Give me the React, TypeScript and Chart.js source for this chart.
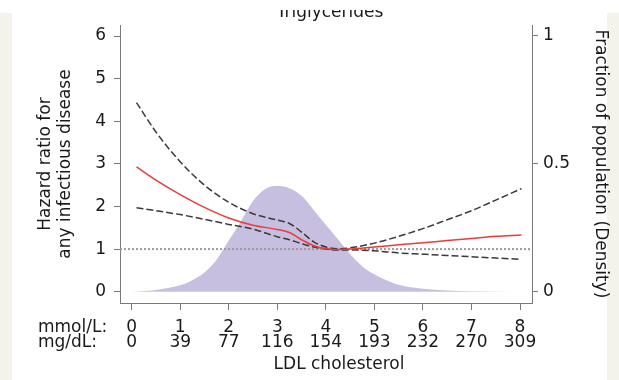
import React, { useEffect, useRef } from "react";
import { Chart, registerables } from "chart.js";

Chart.register(...registerables);

// ---- data ----
const mmolTicks = [0, 1, 2, 3, 4, 5, 6, 7, 8];
const mgdlTicks = ["0", "39", "77", "116", "154", "193", "232", "270", "309"];
const hrTicks = [0, 1, 2, 3, 4, 5, 6];
const densTicks = [0, 0.5, 1];

const ldlX = [0.1, 0.5, 1.0, 1.5, 2.0, 2.5, 3.0, 3.25, 3.5, 3.75, 4.0, 4.25, 4.5, 5.0, 5.5, 6.0, 6.5, 7.0, 7.5, 8.03];
const hrEstimate = [2.93, 2.62, 2.28, 1.98, 1.73, 1.56, 1.46, 1.39, 1.22, 1.08, 1.01, 0.99, 1.0, 1.05, 1.1, 1.15, 1.2, 1.25, 1.3, 1.33];
const hrUpper = [4.44, 3.75, 3.05, 2.5, 2.1, 1.83, 1.68, 1.6, 1.4, 1.17, 1.05, 1.01, 1.03, 1.14, 1.3, 1.48, 1.69, 1.9, 2.15, 2.42];
const hrLower = [1.97, 1.9, 1.81, 1.7, 1.58, 1.47, 1.29, 1.22, 1.13, 1.05, 1.0, 0.98, 0.98, 0.96, 0.91, 0.88, 0.85, 0.82, 0.79, 0.76];

const densX = [0, 0.5, 1.0, 1.25, 1.5, 1.75, 2.0, 2.25, 2.5, 2.75, 3.0, 3.25, 3.5, 3.75, 4.0, 4.25, 4.5, 4.75, 5.0, 5.25, 5.5, 6.0, 6.5, 7.0, 7.85];
const densY = [0, 0.007, 0.025, 0.045, 0.075, 0.125, 0.2, 0.275, 0.355, 0.402, 0.413, 0.405, 0.375, 0.32, 0.262, 0.205, 0.148, 0.1, 0.068, 0.045, 0.027, 0.012, 0.005, 0.002, 0];

const REF_HR = 1;

const X_MIN = -0.24;
const X_MAX = 8.247;
const Y_MIN = -0.265;
const Y_MAX = 6.26;
const Y2_MIN = -0.044;
const Y2_MAX = 1.043;

const FONT = '"DejaVu Sans", "Liberation Sans", Arial, sans-serif';
const TEXT = "#1a1a1a";
const AXIS = "#7a7a7a";

const pairs = (xs: number[], ys: number[]) => xs.map((x, i) => ({ x, y: ys[i] }));

const extraText = {
  id: "extraText",
  afterDraw(chart: any) {
    const ctx = chart.ctx;
    ctx.save();
    ctx.fillStyle = TEXT;
    ctx.font = `17px ${FONT}`;
    ctx.textAlign = "left";
    ctx.textBaseline = "middle";
    ctx.fillText("mmol/L:", 38, 327.5);
    ctx.fillText("mg/dL:", 38, 343);
    ctx.textAlign = "center";
    ctx.fillText("LDL cholesterol", 339, 365);
    ctx.beginPath();
    ctx.rect(0, 10, chart.width, chart.height);
    ctx.clip();
    ctx.textBaseline = "alphabetic";
    ctx.fillText("Triglycerides", 330, 17);
    ctx.restore();
  },
};

export default function App() {
  const ref = useRef<HTMLCanvasElement | null>(null);

  useEffect(() => {
    if (!ref.current) return;
    const chart = new Chart(ref.current, {
      type: "line",
      data: {
        datasets: [
          {
            label: "HR",
            data: pairs(ldlX, hrEstimate),
            borderColor: "#ee3a3a",
            borderWidth: 1.5,
            pointRadius: 0,
            cubicInterpolationMode: "monotone",
            yAxisID: "y",
          },
          {
            label: "Upper",
            data: pairs(ldlX, hrUpper),
            borderColor: "#3a3a3a",
            borderWidth: 1.5,
            borderDash: [7, 3],
            pointRadius: 0,
            cubicInterpolationMode: "monotone",
            yAxisID: "y",
          },
          {
            label: "Lower",
            data: pairs(ldlX, hrLower),
            borderColor: "#3a3a3a",
            borderWidth: 1.5,
            borderDash: [7, 3],
            pointRadius: 0,
            cubicInterpolationMode: "monotone",
            yAxisID: "y",
          },
          {
            label: "Ref",
            data: [
              { x: X_MIN, y: REF_HR },
              { x: X_MAX, y: REF_HR },
            ],
            borderColor: "#9a9a9a",
            borderWidth: 2,
            borderDash: [2, 2],
            pointRadius: 0,
            yAxisID: "y",
          },
          {
            label: "Density",
            data: pairs(densX, densY),
            borderWidth: 0,
            borderColor: "rgba(0,0,0,0)",
            backgroundColor: "#c7bfe0",
            fill: "origin",
            pointRadius: 0,
            cubicInterpolationMode: "monotone",
            yAxisID: "y1",
          },
        ],
      } as any,
      options: {
        animation: false,
        responsive: false,
        devicePixelRatio: 1,
        layout: { padding: { top: 25, left: 0, right: 0, bottom: 0 } },
        plugins: { legend: { display: false }, tooltip: { enabled: false } },
        scales: {
          x: {
            type: "linear",
            min: X_MIN,
            max: X_MAX,
            afterBuildTicks: (s: any) => {
              s.ticks = mmolTicks.map((v) => ({ value: v }));
            },
            afterFit: (s: any) => {
              s.height = 77;
            },
            grid: { drawOnChartArea: false, color: AXIS, tickLength: 7, tickWidth: 1 },
            border: { color: AXIS, width: 1 },
            ticks: {
              autoSkip: false,
              maxRotation: 0,
              padding: 10,
              color: TEXT,
              font: { family: FONT, size: 17, lineHeight: 0.9 },
              callback: (_v: any, i: number) => [String(mmolTicks[i]), mgdlTicks[i]],
            },
          },
          y: {
            type: "linear",
            position: "left",
            min: Y_MIN,
            max: Y_MAX,
            afterBuildTicks: (s: any) => {
              s.ticks = hrTicks.map((v) => ({ value: v }));
            },
            afterFit: (s: any) => {
              s.width = 120;
            },
            grid: { drawOnChartArea: false, color: AXIS, tickLength: 6, tickWidth: 1 },
            border: { color: AXIS, width: 1 },
            ticks: {
              padding: 8,
              color: TEXT,
              font: { family: FONT, size: 17 },
              callback: (v: any) => String(v),
            },
            title: {
              display: true,
              text: ["Hazard ratio for", "any infectious disease"],
              color: TEXT,
              font: { family: FONT, size: 17, lineHeight: 1.2 },
              padding: { top: 35.3, bottom: 0 },
            },
          },
          y1: {
            type: "linear",
            position: "right",
            min: Y2_MIN,
            max: Y2_MAX,
            afterBuildTicks: (s: any) => {
              s.ticks = densTicks.map((v) => ({ value: v }));
            },
            afterFit: (s: any) => {
              s.width = 87;
            },
            grid: { drawOnChartArea: false, color: AXIS, tickLength: 6, tickWidth: 1 },
            border: { color: AXIS, width: 1 },
            ticks: {
              padding: 5,
              color: TEXT,
              font: { family: FONT, size: 17 },
              callback: (v: any) => String(v),
            },
            title: {
              display: true,
              text: "Fraction of population (Density)",
              color: TEXT,
              font: { family: FONT, size: 17, lineHeight: 1.2 },
              padding: { top: 8.8, bottom: 0 },
            },
          },
        },
      } as any,
      plugins: [extraText],
    });
    return () => chart.destroy();
  }, []);

  return (
    <div style={{ position: "fixed", left: 0, top: 0, width: 619, height: 380, background: "#ffffff", overflow: "hidden" }}>
      <div style={{ position: "absolute", left: 0, top: 13, width: 12, height: 367, background: "#f3f3eb" }} />
      <div style={{ position: "absolute", left: 607, top: 13, width: 12, height: 367, background: "#f3f3eb" }} />
      <canvas ref={ref} width={619} height={380} style={{ position: "absolute", left: 0, top: 0, display: "block" }} />
    </div>
  );
}
